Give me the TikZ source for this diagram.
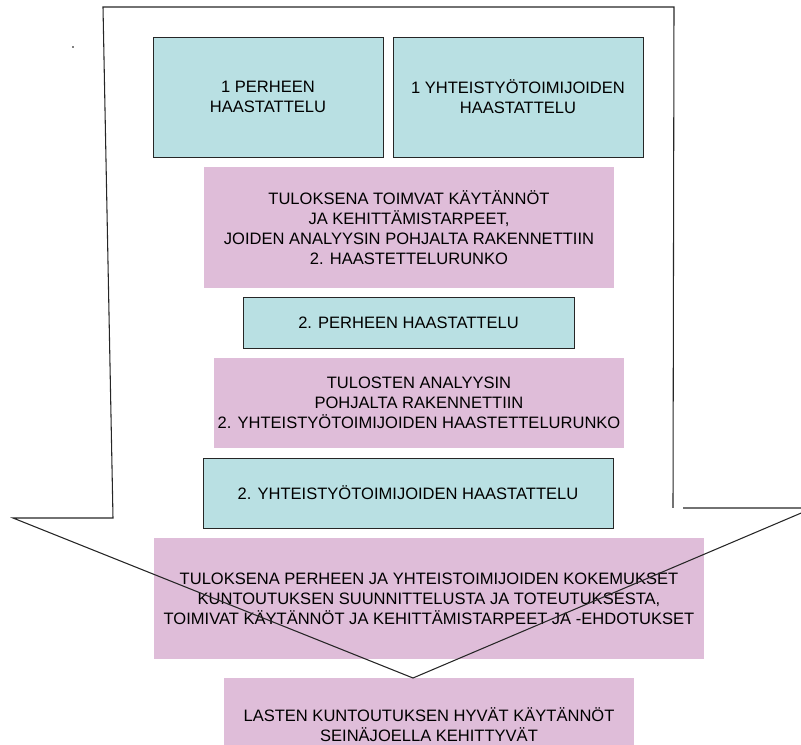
\documentclass[tikz,border=0pt]{standalone}
\usepackage{fontspec}
\setmainfont{Liberation Sans}
\usepackage{xcolor}
\usetikzlibrary{positioning}

\definecolor{haastcol}{RGB}{185,224,227}
\definecolor{tulcol}{RGB}{223,189,217}

\begin{document}
\begin{tikzpicture}[x=0.75pt,y=-0.75pt,
  b/.style={rectangle,align=center,inner sep=0pt,font=\fontsize{12.4}{15}\selectfont},
  hb/.style={b,draw=black!85,line width=0.7pt,fill=haastcol},
  tb/.style={b,fill=tulcol}]
\useasboundingbox (0,0) rectangle (801,745);
\clip (0,0) rectangle (801,745);
\fill[black] (73,47) circle (0.8);
% haastattelut ja tulokset
\node[hb,minimum width=172.5pt,minimum height=90pt] (p1) at (268,97) {1 PERHEEN\\HAASTATTELU};
\node[hb,minimum width=187.5pt,minimum height=90pt] (y1) at (518,97) {1 YHTEISTYÖTOIMIJOIDEN\\HAASTATTELU};
\node[tb,minimum width=307.5pt,minimum height=90.75pt] (t1) at (409,227.5) {TULOKSENA TOIMVAT KÄYTÄNNÖT\\JA KEHITTÄMISTARPEET,\\JOIDEN ANALYYSIN POHJALTA RAKENNETTIIN\\2. HAASTETTELURUNKO};
\node[hb,minimum width=248.25pt,minimum height=38.25pt] (p2) at (408.5,322.5) {2. PERHEEN HAASTATTELU};
\node[tb,minimum width=307.5pt,minimum height=67.5pt] (t2) at (419,403) {TULOSTEN ANALYYSIN\\POHJALTA RAKENNETTIIN\\2. YHTEISTYÖTOIMIJOIDEN HAASTETTELURUNKO};
\node[hb,minimum width=307.5pt,minimum height=52.5pt] (y2) at (408,493) {2. YHTEISTYÖTOIMIJOIDEN HAASTATTELU};
\node[tb,minimum width=412.5pt,minimum height=90.75pt] (t3) at (429,598.5) {TULOKSENA PERHEEN JA YHTEISTOIMIJOIDEN KOKEMUKSET\\KUNTOUTUKSEN SUUNNITTELUSTA JA TOTEUTUKSESTA,\\TOIMIVAT KÄYTÄNNÖT JA KEHITTÄMISTARPEET JA -EHDOTUKSET};
\node[tb,minimum width=307.5pt,minimum height=70.5pt] (res) at (429,725) {LASTEN KUNTOUTUKSEN HYVÄT KÄYTÄNNÖT\\SEINÄJOELLA KEHITTYVÄT};
% iso nuoli
\draw[black!85,line width=0.8pt,line join=miter] (673,508) -- (674,7) -- (103,7) -- (113,518) -- (13,518) -- (413,678) -- (813,508) -- (683,508);
\end{tikzpicture}
\end{document}
